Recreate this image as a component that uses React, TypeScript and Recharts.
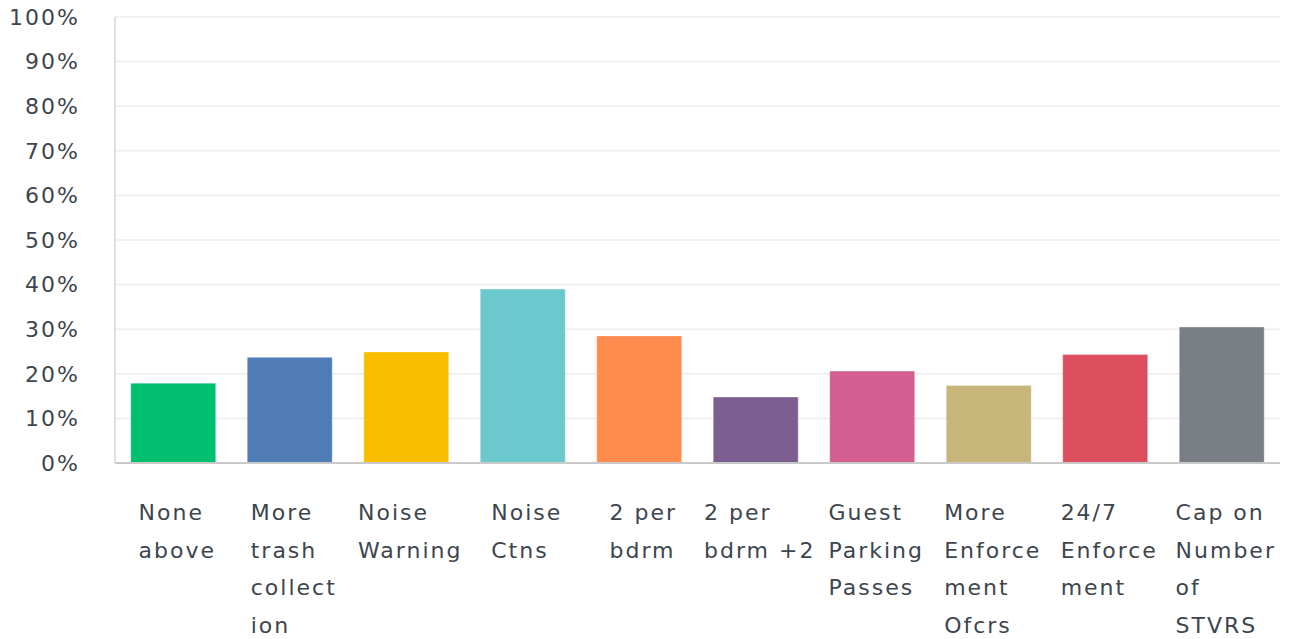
import React from "react";
import { BarChart, Bar, XAxis, YAxis, CartesianGrid, Cell } from "recharts";

const categories: string[][] = [
  ["None", "above"],
  ["More", "trash", "collect", "ion"],
  ["Noise", "Warning"],
  ["Noise", "Ctns"],
  ["2 per", "bdrm"],
  ["2 per", "bdrm +2"],
  ["Guest", "Parking", "Passes"],
  ["More", "Enforce", "ment", "Ofcrs"],
  ["24/7", "Enforce", "ment"],
  ["Cap on", "Number", "of", "STVRS"],
];

const values: number[] = [17.9, 23.7, 24.9, 39.0, 28.5, 14.8, 20.6, 17.4, 24.3, 30.5];

const colors: string[] = [
  "#00bf6f",
  "#507cb6",
  "#f9be00",
  "#6bc8cd",
  "#ff8b4f",
  "#7d5e90",
  "#d25f90",
  "#c8b579",
  "#dc4d5d",
  "#7a7f86",
];

const yTicks: number[] = [0, 10, 20, 30, 40, 50, 60, 70, 80, 90, 100];

const data = categories.map((lines, i) => ({
  key: String(i),
  lines,
  value: values[i],
}));

const FONT_FAMILY = "DejaVu Sans";
const FONT_SIZE = 22;
const LETTER_SPACING = 2;
const TEXT_COLOR = "#3d454d";

let ctx: CanvasRenderingContext2D | null = null;
function measure(s: string): number {
  if (!ctx) {
    const c = document.createElement("canvas");
    ctx = c.getContext("2d");
  }
  if (!ctx) return s.length * FONT_SIZE * 0.6;
  ctx.font = `${FONT_SIZE}px "${FONT_FAMILY}"`;
  return ctx.measureText(s).width + LETTER_SPACING * (s.length - 1);
}

const XTick = (props: any) => {
  const { x, y, payload } = props;
  const idx = Number(payload.value);
  const lines = categories[idx] || [];
  const maxW = Math.max(...lines.map(measure));
  const left = x - maxW / 2 + 3;
  return (
    <g>
      {lines.map((ln, j) => (
        <text
          key={j}
          x={left}
          y={y + 55 + j * 37.5}
          textAnchor="start"
          fill={TEXT_COLOR}
          fontSize={FONT_SIZE}
          fontFamily={FONT_FAMILY}
          style={{ letterSpacing: LETTER_SPACING }}
        >
          {ln}
        </text>
      ))}
    </g>
  );
};

export default function App() {
  return (
    <div style={{ position: "absolute", left: 0, top: 0, width: 1291, height: 639, background: "#fff" }}>
      <BarChart
        width={1291}
        height={639}
        data={data}
        margin={{ top: 17, right: 11, bottom: 0, left: 0 }}
        barCategoryGap="13.5%"
      >
        <CartesianGrid vertical={false} stroke="#ececec" strokeWidth={1.5} />
        <XAxis
          dataKey="key"
          interval={0}
          height={176}
          tickLine={false}
          tickSize={0}
          axisLine={{ stroke: "#c9c9c9", strokeWidth: 2 }}
          tick={<XTick />}
        />
        <YAxis
          domain={[0, 100]}
          ticks={yTicks}
          interval={0}
          width={115}
          tickLine={false}
          tickSize={0}
          tickMargin={35}
          axisLine={{ stroke: "#d6d6d6", strokeWidth: 1.5 }}
          tickFormatter={(v: number) => `${v}%`}
          tick={{
            fill: TEXT_COLOR,
            fontSize: FONT_SIZE,
            fontFamily: FONT_FAMILY,
            style: { letterSpacing: LETTER_SPACING },
          }}
        />
        <Bar dataKey="value" isAnimationActive={false}>
          {data.map((d, i) => (
            <Cell key={d.key} fill={colors[i]} stroke="rgba(255,255,255,0.35)" strokeWidth={1} />
          ))}
        </Bar>
      </BarChart>
    </div>
  );
}
